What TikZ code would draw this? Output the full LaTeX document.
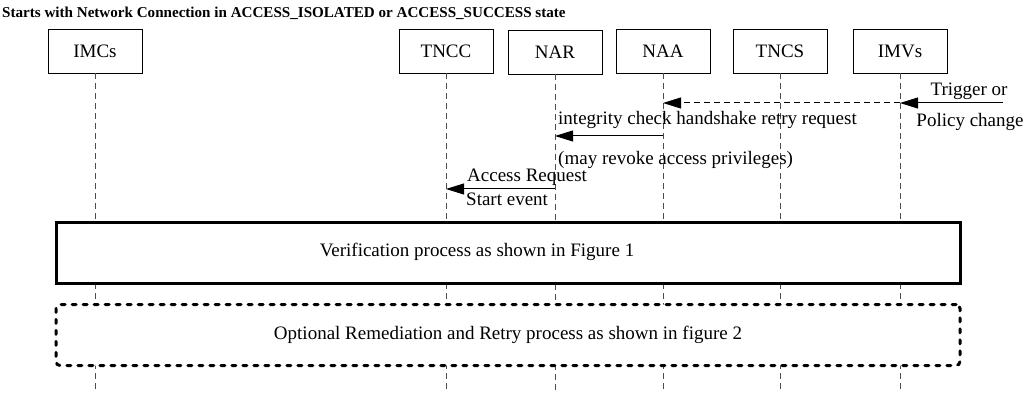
\documentclass[tikz,border=0pt]{standalone}
\usepackage{fontspec}
\setmainfont{Liberation Serif}
\usepackage{tikz}
\usetikzlibrary{arrows.meta,positioning}
\tikzset{
  partbox/.style={
    draw,
    line width=0.9pt,
    minimum width=94pt,
    minimum height=44pt,
    inner sep=0pt,
    fill=white,
    font=\fontsize{19}{21}\selectfont
  },
  lifeline/.style={
    line width=0.8pt,
    draw=black!70,
    dash pattern=on 6pt off 4pt
  },
  msg/.style={-{Triangle[length=18pt,width=11pt]}, line width=1pt},
  dashmsg/.style={msg, dash pattern=on 6pt off 4pt},
  lbl/.style={font=\fontsize{19}{21}\selectfont, inner sep=0pt},
  procbox/.style={
    draw,
    line width=3pt,
    fill=white,
    minimum width=904pt,
    minimum height=61pt
  }
}

\begin{document}
\begin{tikzpicture}[x=1pt, y=-1pt,
  optbox/.style={procbox, line cap=round, dash pattern=on 4pt off 7pt, rounded corners=4pt},
  titletxt/.style={font=\fontsize{15.1}{17}\selectfont\bfseries, inner sep=0pt}
]
\useasboundingbox (0,0) rectangle (1026,393);
\node[titletxt, anchor=west] (title) at (2,13)
  {Starts with Network Connection in ACCESS\_ISOLATED or ACCESS\_SUCCESS state};

% participants
\node[partbox] (imcs) at (95,51) {IMCs};
\node[partbox] (tncc) at (446,51) {TNCC};
\node[partbox] (nar)  at (555,52) {NAR};
\node[partbox] (naa)  at (663,51) {NAA};
\node[partbox] (tncs) at (780,51) {TNCS};
\node[partbox] (imvs) at (900,51) {IMVs};

\coordinate (end) at (0,393);
\foreach \p in {imcs,tncc,nar,naa,tncs,imvs}
  \draw[lifeline] (\p) -- (\p |- end);

% trigger from outside
\coordinate (trig) at (1003,103);
\draw[msg] (trig) -- (trig -| imvs);
\draw[dashmsg] (trig -| imvs) -- (trig -| naa);
\node[lbl] (trigtxt) at (969,91) {Trigger or};
\node[lbl] (policytxt) at (970,122) {Policy change};

% NAA -> NAR
\coordinate (retry) at (0,136);
\draw[msg] (retry -| naa) -- (retry -| nar);
\node[lbl, anchor=west] (retrytxt) at (558,120) {integrity check handshake retry request};
\node[lbl, anchor=west] (revoketxt) at (558,160) {(may revoke access privileges)};

% NAR -> TNCC
\coordinate (access) at (0,189);
\draw[msg] (access -| nar) -- (access -| tncc);
\node[lbl, anchor=west] (accesstxt) at (467,177) {Access Request};
\node[lbl, anchor=west] (starttxt) at (466,199) {Start event};

% follow-up phases
\node[procbox] (verify) at (508,253) {};
\node[lbl] (verifytxt) at (477,252) {Verification process as shown in Figure 1};
\node[optbox] (remedy) at (508,335) {};
\node[lbl] (remedytxt) at (508,335) {Optional Remediation and Retry process as shown in figure 2};
\end{tikzpicture}
\end{document}
